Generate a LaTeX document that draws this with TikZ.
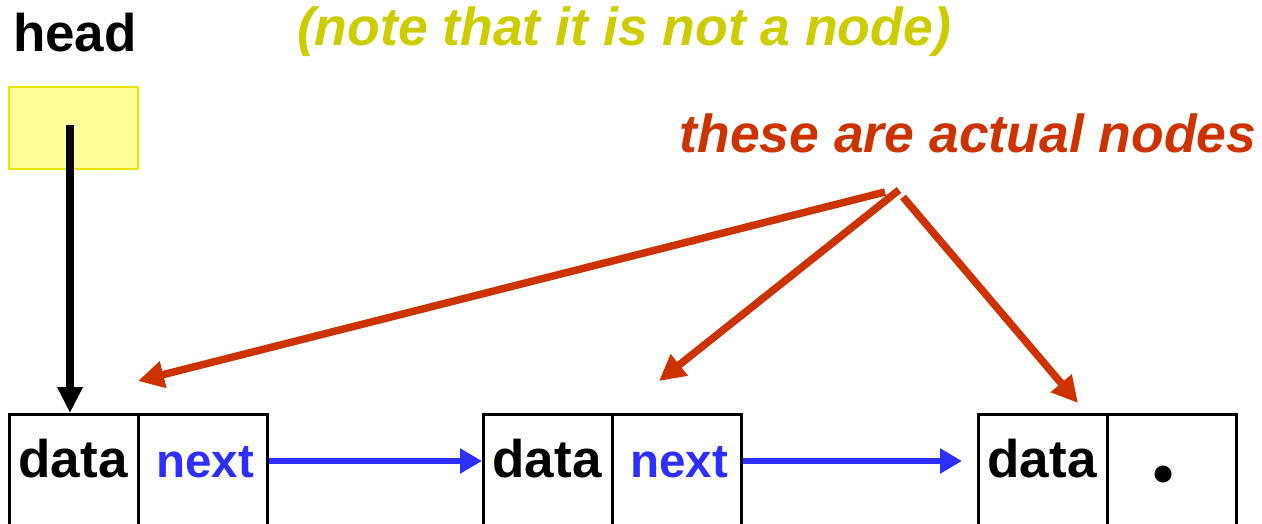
\documentclass[tikz,border=0pt]{standalone}
\usepackage{fontspec}
\setmainfont{Liberation Sans}
\usetikzlibrary{arrows.meta,calc}
\definecolor{noteyellow}{HTML}{CCCC00}
\definecolor{nodered}{HTML}{CC3300}
\definecolor{linkblue}{HTML}{2E2EFF}
\definecolor{ptrfill}{HTML}{FFFF99}
\definecolor{ptredge}{HTML}{E6E600}
\tikzset{
  cell/.style={draw=black, line width=2.5pt, minimum width=129pt, minimum height=130pt, inner sep=0pt, anchor=north west},
  ptrbox/.style={draw=ptredge, fill=ptrfill, line width=2pt, minimum width=129pt, minimum height=82pt, inner sep=0pt, anchor=north west},
  bigtext/.style={font=\fontsize{53}{60}\selectfont\bfseries, inner sep=0pt, anchor=base},
  nexttext/.style={font=\fontsize{47.5}{56}\selectfont\bfseries, text=linkblue, inner sep=0pt, anchor=base},
  notetext/.style={font=\fontsize{53.5}{60}\selectfont\bfseries\itshape, inner sep=0pt, anchor=base},
  headptr/.style={line width=7.5pt, -{Triangle[length=26pt,width=24pt]}},
  linkarrow/.style={draw=linkblue, line width=6.5pt, -{Triangle[length=22pt,width=24pt]}},
  callout/.style={draw=nodered, line width=7.5pt, -{Triangle[length=26pt,width=26pt]}},
}
\begin{document}
\begin{tikzpicture}[x=1pt,y=-1pt]
\useasboundingbox (0,0) rectangle (1262,523);
\clip (0,0) rectangle (1262,523);

% labels
\node[bigtext] (headlbl) at (75,51) {head};
\node[notetext, text=noteyellow] (note) at (624,45) {(note that it is not a node)};
\node[notetext, text=nodered] (actual) at (968,152) {these are actual nodes};

% head pointer variable
\node[ptrbox] (head) at (8,86) {};
\coordinate (headsrc) at (70,125);

% list nodes: data and next cells
\node[cell] (data1) at (8,413) {};
\node[cell] (next1) at (137,413) {};
\node[cell] (data2) at (482,413) {};
\node[cell] (next2) at (611,413) {};
\node[cell] (data3) at (977,413) {};
\node[cell] (next3) at (1106,413) {};

\node[bigtext] (d1) at (73,477) {data};
\node[nexttext] (n1) at (205,477) {next};
\node[bigtext] (d2) at (547,477) {data};
\node[nexttext] (n2) at (679,477) {next};
\node[bigtext] (d3) at (1042,477) {data};
\node[circle, fill=black, minimum size=17pt, inner sep=0pt] (nullptr) at (1163,474) {};

% head points at the first node
\draw[headptr] (headsrc) -- (headsrc |- data1.north);

% next links
\draw[linkarrow] ($(next1.north east)+(0,48)$) -- ($(data2.north west)+(0,48)$);
\draw[linkarrow] ($(next2.north east)+(0,48)$) -- ($(data3.north west)+(-15,48)$);

% callouts to the actual nodes
\coordinate (c1) at (885,192);
\coordinate (c2) at (899,190);
\coordinate (c3) at (903,197);
\coordinate (t1) at (138,381);
\coordinate (t2) at (659,381);
\coordinate (t3) at (1078,403);
\draw[callout] (c1) -- (t1);
\draw[callout] (c2) -- (t2);
\draw[callout] (c3) -- (t3);
\end{tikzpicture}
\end{document}
